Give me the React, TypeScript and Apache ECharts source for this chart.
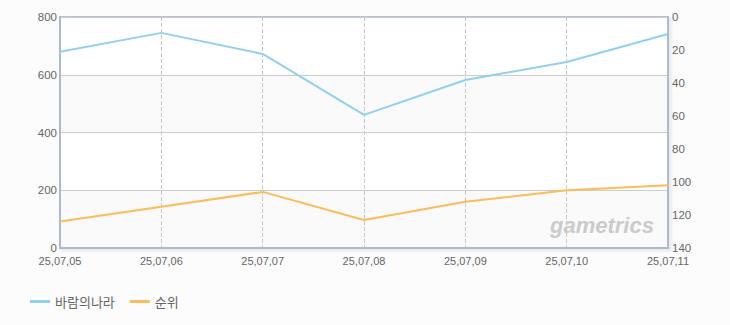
import React, { useEffect, useRef } from "react";
import * as echarts from "echarts";

const categories = ["25,07,05", "25,07,06", "25,07,07", "25,07,08", "25,07,09", "25,07,10", "25,07,11"];
const usageValues = [680, 745, 672, 461, 582, 644, 741];
const rankValues = [124, 115, 106, 123, 112, 105, 102];
const leftTicks = { min: 0, max: 800, interval: 200 };
const rightTicks = { min: 0, max: 140, interval: 20 };

export default function App() {
  const ref = useRef<HTMLDivElement>(null);
  useEffect(() => {
    if (!ref.current) return;
    const chart = echarts.init(ref.current, null, { renderer: "svg" });
    const font = "'Liberation Sans', 'Noto Sans CJK KR', sans-serif";
    chart.setOption({
      animation: false,
      backgroundColor: "#fcfcfc",
      textStyle: { fontFamily: font },
      grid: {
        left: 60,
        right: 62,
        top: 17,
        bottom: 77,
        show: true,
        borderColor: "#b4c4d6",
        borderWidth: 2,
        backgroundColor: "transparent",
        shadowColor: "rgba(0,0,0,0.12)",
        shadowBlur: 3,
        shadowOffsetX: 2,
        shadowOffsetY: 2,
      },
      legend: {
        left: 25,
        top: 290,
        icon: "rect",
        itemWidth: 20,
        itemHeight: 3,
        itemGap: 15,
        textStyle: { color: "#666", fontSize: 13, fontFamily: "'Noto Sans CJK KR', sans-serif" },
        data: ["바람의나라", "순위"],
      },
      xAxis: {
        type: "category",
        data: categories,
        boundaryGap: false,
        axisLine: { lineStyle: { color: "#a9bccf", width: 2 } },
        axisTick: { show: false },
        axisLabel: { color: "#666", fontSize: 11, margin: 7, showMinLabel: true, showMaxLabel: true, interval: 0 },
        splitLine: { show: true, lineStyle: { color: "#c8c8c8", type: "dashed", width: 1 } },
      },
      yAxis: [
        {
          type: "value",
          min: leftTicks.min,
          max: leftTicks.max,
          interval: leftTicks.interval,
          axisLine: { show: true, lineStyle: { color: "#a9bccf", width: 2 } },
          axisTick: { show: false },
          axisLabel: { color: "#666", fontSize: 11.5, margin: 3 },
          splitLine: { show: true, lineStyle: { color: "#cccccc", width: 1 } },
          splitArea: { show: true, areaStyle: { color: ["#fafafa", "#ffffff"] } },
        },
        {
          type: "value",
          inverse: true,
          min: rightTicks.min,
          max: rightTicks.max,
          interval: rightTicks.interval,
          position: "right",
          axisLine: { show: true, lineStyle: { color: "#a9bccf", width: 2 } },
          axisTick: { show: false },
          axisLabel: { color: "#666", fontSize: 11.5, margin: 4 },
          splitLine: { show: false },
        },
      ],
      graphic: [
        {
          type: "text",
          left: 550,
          top: 214,
          z: 1,
          style: {
            text: "gametrics",
            fill: "#cbcbcb",
            font: "italic bold 22px 'Liberation Sans', sans-serif",
          },
        },
      ],
      series: [
        {
          name: "바람의나라",
          type: "line",
          data: usageValues,
          yAxisIndex: 0,
          showSymbol: false,
          symbol: "none",
          lineStyle: { color: "#92d0f2", width: 2 },
          itemStyle: { color: "#92d0f2" },
          z: 3,
        },
        {
          name: "순위",
          type: "line",
          data: rankValues,
          yAxisIndex: 1,
          showSymbol: false,
          symbol: "none",
          lineStyle: { color: "#fdbc5a", width: 2 },
          itemStyle: { color: "#fdbc5a" },
          z: 3,
        },
      ],
    });
    return () => chart.dispose();
  }, []);
  return (
    <div
      ref={ref}
      style={{ position: "fixed", left: 0, top: 0, width: 730, height: 325, background: "#fcfcfc" }}
    />
  );
}
